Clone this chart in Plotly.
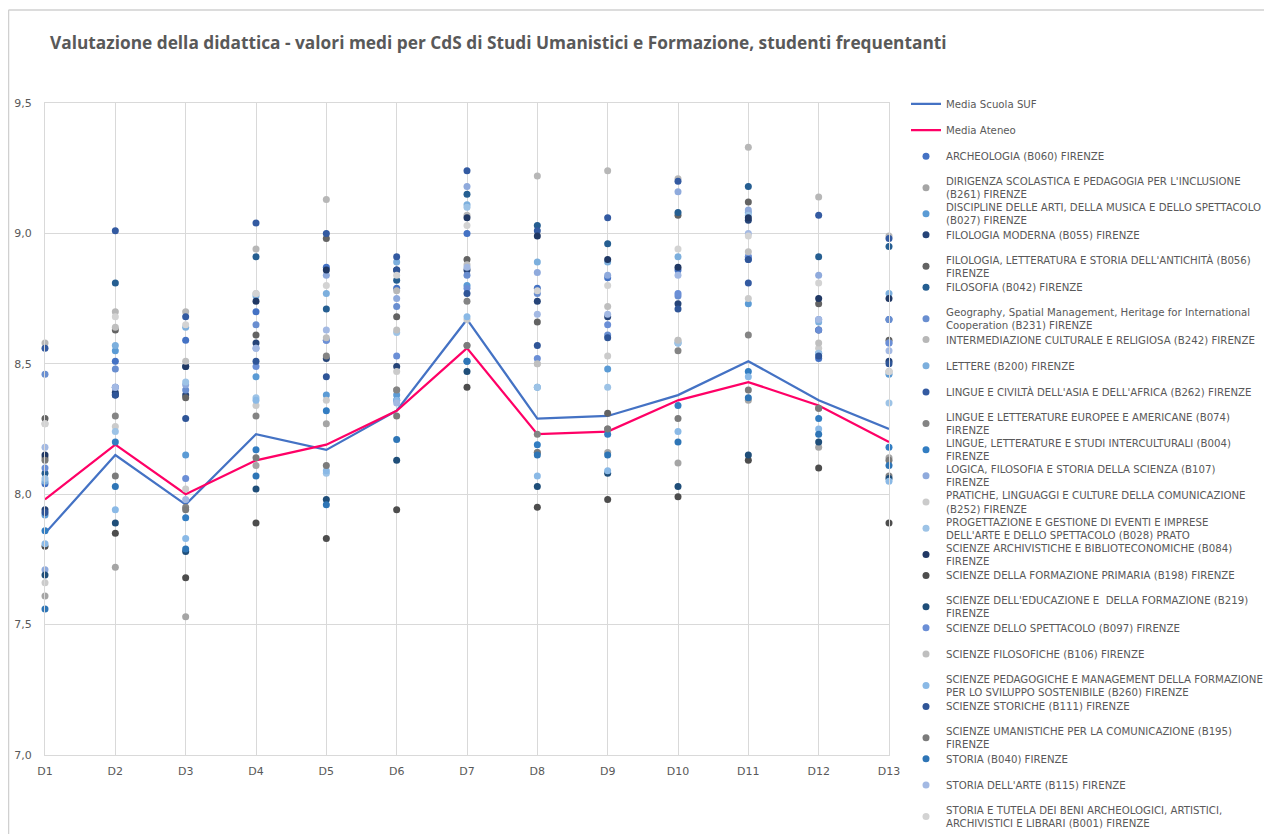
import plotly.graph_objects as go

categories = ["D1", "D2", "D3", "D4", "D5", "D6", "D7", "D8", "D9", "D10", "D11", "D12", "D13"]

media_scuola_suf = [7.85, 8.15, 7.96, 8.23, 8.17, 8.32, 8.67, 8.29, 8.30, 8.38, 8.51, 8.36, 8.25]
media_ateneo = [7.98, 8.19, 8.00, 8.13, 8.19, 8.32, 8.56, 8.23, 8.24, 8.36, 8.43, 8.34, 8.20]

archeologia = [8.04, 8.51, 8.59, 8.70, 8.87, 8.79, 9.00, 8.79, 8.83, 8.86, 8.90, 8.52, 8.67]
dirigenza = [7.61, 7.72, 7.53, 8.11, 8.27, 8.40, 8.57, 8.16, 8.16, 8.12, 8.36, 8.18, 8.14]
discipline_arti = [7.92, 8.55, 8.15, 8.45, 8.38, 8.38, 8.80, 8.41, 8.48, 8.58, 8.73, 8.54, 8.46]
filologia_moderna = [7.94, 8.39, 8.38, 8.58, 8.52, 8.49, 8.86, 8.74, 8.68, 8.73, 9.05, 8.63, 8.51]
filologia_antichita = [8.29, 8.63, 8.37, 8.61, 8.98, 8.68, 8.90, 8.66, 8.31, 9.07, 9.12, 8.73, 8.59]
filosofia = [8.08, 8.81, 8.49, 8.91, 8.71, 8.82, 9.15, 9.03, 8.96, 9.08, 9.18, 8.91, 8.95]
geography = [8.46, 8.48, 8.40, 8.65, 8.59, 8.72, 8.84, 8.77, 8.61, 8.76, 8.91, 8.67, 8.67]
intermediazione = [8.58, 8.70, 8.70, 8.94, 9.13, 8.78, 9.07, 9.22, 9.24, 9.21, 9.33, 9.14, 8.99]
lettere = [8.05, 8.57, 8.64, 8.76, 8.77, 8.89, 9.11, 8.89, 8.89, 8.91, 9.08, 8.66, 8.77]
lingue_asia_africa = [8.56, 9.01, 8.68, 9.04, 9.00, 8.91, 9.24, 9.01, 9.06, 9.20, 8.81, 9.07, 8.98]
lingue_europee = [8.14, 8.30, 7.95, 8.30, 8.53, 8.40, 8.74, 8.23, 8.25, 8.55, 8.61, 8.33, 8.07]
lingue_interculturali = [7.86, 8.20, 7.91, 8.17, 8.32, 8.36, 8.51, 8.19, 8.23, 8.34, 8.47, 8.29, 8.18]
logica = [7.71, 8.41, 8.42, 8.56, 8.84, 8.75, 9.18, 8.85, 8.84, 9.16, 9.09, 8.84, 8.58]
pratiche = [7.66, 8.26, 8.02, 8.34, 8.36, 8.47, 8.67, 8.50, 8.53, 8.59, 8.75, 8.56, 8.47]
progettazione = [8.06, 8.24, 8.43, 8.37, 8.08, 8.62, 9.10, 8.41, 8.41, 8.58, 9.07, 8.54, 8.35]
archivistiche = [8.15, 8.38, 8.49, 8.74, 8.86, 8.86, 9.06, 8.99, 8.90, 8.87, 9.06, 8.75, 8.75]
formazione_primaria = [7.80, 7.85, 7.68, 7.89, 7.83, 7.94, 8.41, 7.95, 7.98, 7.99, 8.13, 8.10, 7.89]
educazione = [7.69, 7.89, 7.78, 8.02, 7.98, 8.13, 8.47, 8.03, 8.08, 8.03, 8.15, 8.20, 8.06]
spettacolo = [8.10, 8.41, 8.06, 8.49, 8.59, 8.53, 8.79, 8.52, 8.65, 8.77, 8.91, 8.63, 8.58]
filosofiche = [8.27, 8.64, 8.51, 8.77, 8.60, 8.63, 8.88, 8.50, 8.72, 8.59, 8.93, 8.58, 8.47]
pedagogiche = [7.81, 7.94, 7.83, 8.36, 8.09, 8.36, 8.68, 8.07, 8.09, 8.24, 8.45, 8.25, 8.05]
storiche = [7.93, 8.38, 8.29, 8.51, 8.45, 8.86, 8.77, 8.57, 8.60, 8.71, 8.90, 8.53, 8.50]
umanistiche = [8.13, 8.07, 7.94, 8.14, 8.11, 8.30, 8.57, 8.16, 8.25, 8.29, 8.40, 8.33, 8.13]
storia = [7.56, 8.03, 7.79, 8.07, 7.96, 8.21, 8.51, 8.15, 8.15, 8.20, 8.37, 8.23, 8.11]
storia_arte = [8.18, 8.41, 7.98, 8.56, 8.63, 8.35, 8.87, 8.69, 8.69, 8.84, 9.00, 8.67, 8.55]
storia_tutela = [8.27, 8.68, 8.65, 8.77, 8.80, 8.84, 9.03, 8.78, 8.80, 8.94, 8.99, 8.81, 8.47]

line_series = [
    ("Media Scuola SUF", media_scuola_suf, "#4472C4"),
    ("Media Ateneo", media_ateneo, "#FF0066"),
]

dot_series = [
    ("ARCHEOLOGIA (B060) FIRENZE", archeologia, "#4472C4"),
    ("DIRIGENZA SCOLASTICA E PEDAGOGIA PER L'INCLUSIONE<br>(B261) FIRENZE", dirigenza, "#A5A5A5"),
    ("DISCIPLINE DELLE ARTI, DELLA MUSICA E DELLO SPETTACOLO<br>(B027) FIRENZE", discipline_arti, "#5B9BD5"),
    ("FILOLOGIA MODERNA (B055) FIRENZE", filologia_moderna, "#264478"),
    ("FILOLOGIA, LETTERATURA E STORIA DELL'ANTICHITÀ (B056)<br>FIRENZE", filologia_antichita, "#636363"),
    ("FILOSOFIA (B042) FIRENZE", filosofia, "#255E91"),
    ("Geography, Spatial Management, Heritage for International<br>Cooperation (B231) FIRENZE", geography, "#698ED0"),
    ("INTERMEDIAZIONE CULTURALE E RELIGIOSA (B242) FIRENZE", intermediazione, "#B7B7B7"),
    ("LETTERE (B200) FIRENZE", lettere, "#7CAFDD"),
    ("LINGUE E CIVILTÀ DELL'ASIA E DELL'AFRICA (B262) FIRENZE", lingue_asia_africa, "#335AA1"),
    ("LINGUE E LETTERATURE EUROPEE E AMERICANE (B074)<br>FIRENZE", lingue_europee, "#848484"),
    ("LINGUE, LETTERATURE E STUDI INTERCULTURALI (B004)<br>FIRENZE", lingue_interculturali, "#327DC2"),
    ("LOGICA, FILOSOFIA E STORIA DELLA SCIENZA (B107)<br>FIRENZE", logica, "#8FAADC"),
    ("PRATICHE, LINGUAGGI E CULTURE DELLA COMUNICAZIONE<br>(B252) FIRENZE", pratiche, "#CBCBCB"),
    ("PROGETTAZIONE E GESTIONE DI EVENTI E IMPRESE<br>DELL'ARTE E DELLO SPETTACOLO (B028) PRATO", progettazione, "#9DC3E6"),
    ("SCIENZE ARCHIVISTICHE E BIBLIOTECONOMICHE (B084)<br>FIRENZE", archivistiche, "#203864"),
    ("SCIENZE DELLA FORMAZIONE PRIMARIA (B198) FIRENZE", formazione_primaria, "#4D4D4D"),
    ("SCIENZE DELL'EDUCAZIONE E  DELLA FORMAZIONE (B219)<br>FIRENZE", educazione, "#1F4E79"),
    ("SCIENZE DELLO SPETTACOLO (B097) FIRENZE", spettacolo, "#6B8FD6"),
    ("SCIENZE FILOSOFICHE (B106) FIRENZE", filosofiche, "#BFBFBF"),
    ("SCIENZE PEDAGOGICHE E MANAGEMENT DELLA FORMAZIONE<br>PER LO SVILUPPO SOSTENIBILE (B260) FIRENZE", pedagogiche, "#8AB9E6"),
    ("SCIENZE STORICHE (B111) FIRENZE", storiche, "#2F5597"),
    ("SCIENZE UMANISTICHE PER LA COMUNICAZIONE (B195)<br>FIRENZE", umanistiche, "#7B7B7B"),
    ("STORIA (B040) FIRENZE", storia, "#2E75B6"),
    ("STORIA DELL'ARTE (B115) FIRENZE", storia_arte, "#A3B9E3"),
    ("STORIA E TUTELA DEI BENI ARCHEOLOGICI, ARTISTICI,<br>ARCHIVISTICI E LIBRARI (B001) FIRENZE", storia_tutela, "#D3D3D3"),
]

# page body has an 8px margin; figure coordinates are page coordinates minus 8
OFF = 8
W, H = 1272 - OFF, 834 - OFF
PL, PR, PT, PB = 45 - OFF, 889 - OFF, 103 - OFF, 755 - OFF
TXT = "#595959"
FONT = "DejaVu Sans"

fig = go.Figure()

legend_names = []
idx = 0
for name, vals, col in line_series:
    lg = "legend" if idx == 0 else f"legend{idx + 1}"
    legend_names.append(lg)
    fig.add_trace(go.Scatter(x=categories, y=vals, name=name, mode="lines",
                             line=dict(color=col, width=2.25), legend=lg,
                             cliponaxis=False))
    idx += 1

for name, vals, col in dot_series:
    lg = f"legend{idx + 1}"
    legend_names.append(lg)
    fig.add_trace(go.Scatter(x=categories, y=vals, name=name, mode="markers",
                             marker=dict(color=col, size=7, line=dict(width=0)),
                             legend=lg, cliponaxis=False))
    idx += 1

legend_layout = {}
for i, lg in enumerate(legend_names):
    center = 103.3 - OFF + 26.2 * i
    legend_layout[lg] = dict(
        x=(906 - OFF) / W, xref="container", xanchor="left",
        y=1 - (center - 14) / H, yref="container", yanchor="top",
        bgcolor="rgba(0,0,0,0)", borderwidth=0,
        font=dict(family=FONT, size=10.2, color=TXT),
    )

frame_top = (PB - (10 - OFF)) / (PB - PT)
frame_left = (0.5 - PL) / (PR - PL)

fig.update_layout(
    width=W, height=H,
    margin=dict(l=PL, r=W - PR, t=PT, b=H - PB, autoexpand=False),
    paper_bgcolor="white", plot_bgcolor="white",
    separators=",.",
    title=dict(
        text="Valutazione della didattica - valori medi per CdS di Studi Umanistici e Formazione, studenti frequentanti",
        x=(50 - OFF) / W, xref="container", xanchor="left",
        y=1 - (43 - OFF) / H, yref="container", yanchor="middle",
        font=dict(family="Open Sans", size=17.3, color=TXT, weight="bold"),
    ),
    showlegend=True,
    xaxis=dict(
        type="category", range=[0, 12], showgrid=True, gridcolor="#D9D9D9", gridwidth=1,
        showline=True, linecolor="#D9D9D9", linewidth=1, mirror=True,
        tickfont=dict(family=FONT, size=11, color=TXT), ticks="",
        ticklabelstandoff=6, zeroline=False,
    ),
    yaxis=dict(
        range=[7, 9.5], tickvals=[7.0, 7.5, 8.0, 8.5, 9.0, 9.5], tickformat=".1f",
        showgrid=True, gridcolor="#D9D9D9", gridwidth=1,
        showline=True, linecolor="#D9D9D9", linewidth=1, mirror=True,
        tickfont=dict(family=FONT, size=11, color=TXT), ticks="",
        ticklabelstandoff=10, zeroline=False,
    ),
    shapes=[
        dict(type="line", xref="paper", yref="paper",
             x0=frame_left, x1=1.5, y0=frame_top, y1=frame_top,
             line=dict(color="#D0D0D0", width=1.5), layer="below"),
        dict(type="line", xref="paper", yref="paper",
             x0=frame_left, x1=frame_left, y0=-0.3, y1=frame_top,
             line=dict(color="#D0D0D0", width=1.5), layer="below"),
    ],
    **legend_layout,
)

fig.write_html("out.html")
